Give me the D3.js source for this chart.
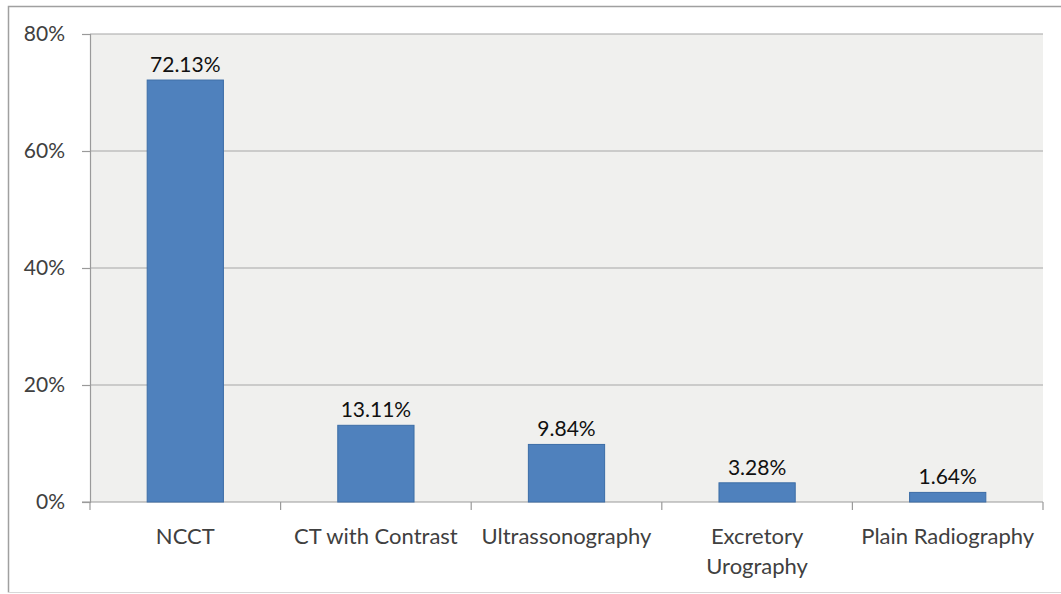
<!DOCTYPE html>
<html>
<head>
<meta charset="utf-8">
<script src="https://cdn.jsdelivr.net/npm/d3@7"></script>
<style>
	body { margin: 0; background: #fff; }
	text { font-family: Lato, 'Open Sans', sans-serif; }
</style>
</head>
<body>
<div id="chartArea"></div>
<script>

	// chart data
	var categories = ['NCCT', 'CT with Contrast', 'Ultrassonography', 'Excretory Urography', 'Plain Radiography'];
	var values = [72.13, 13.11, 9.84, 3.28, 1.64];
	var yTicks = [0, 20, 40, 60, 80];

	// labels that wrap onto two lines
	var labelLines = {
		'Excretory Urography': ['Excretory', 'Urography']
	};

	var width = 1061, height = 594;
	var margin = { top: 34, right: 18, bottom: 92, left: 90 };

	var svg = d3.select('#chartArea').append('svg')
		.attr('width', width)
		.attr('height', height);

	// outer frame
	svg.append('path')
		.attr('d', 'M8.5,' + (height - 1.5) + 'V6.5H' + width)
		.attr('fill', 'none')
		.attr('stroke', '#a0a0a0')
		.attr('stroke-width', 1.5);
	svg.append('line')
		.attr('x1', 8).attr('x2', width)
		.attr('y1', height - 1.5).attr('y2', height - 1.5)
		.attr('stroke', '#d8d8d8');

	var x = d3.scaleBand()
		.domain(categories)
		.range([margin.left, width - margin.right])
		.paddingInner(0.6)
		.paddingOuter(0.3);

	var y = d3.scaleLinear()
		.domain([0, 80])
		.range([height - margin.bottom, margin.top]);

	// plot background
	svg.append('rect')
		.attr('x', margin.left)
		.attr('y', margin.top)
		.attr('width', width - margin.right - margin.left)
		.attr('height', y(0) - margin.top)
		.attr('fill', '#f0f0ee');

	// gridlines
	svg.selectAll('.grid')
		.data(yTicks.slice(1))
		.enter()
		.append('line')
		.attr('class', 'grid')
		.attr('x1', margin.left)
		.attr('x2', width - margin.right)
		.attr('y1', function (d) { return y(d); })
		.attr('y2', function (d) { return y(d); })
		.attr('stroke', '#a6a6a6')
		.attr('stroke-width', 1.2);

	// y axis
	var yAxis = svg.append('g')
		.attr('transform', 'translate(' + margin.left + ',0)')
		.call(d3.axisLeft(y)
			.tickValues(yTicks)
			.tickSize(8)
			.tickPadding(17)
			.tickFormat(function (d) { return d + '%'; }));
	yAxis.select('.domain').attr('stroke', '#9a9a9a').attr('stroke-width', 1.2);
	yAxis.selectAll('.tick line').attr('stroke', '#9a9a9a').attr('stroke-width', 1.2);
	yAxis.selectAll('.tick text')
		.attr('font-size', 21)
		.attr('fill', '#404040');

	// x axis line and ticks at band boundaries
	var step = x.step();
	var bounds = d3.range(categories.length + 1).map(function (i) { return margin.left + i * step; });
	svg.append('line')
		.attr('x1', margin.left - 8)
		.attr('x2', width - margin.right)
		.attr('y1', y(0))
		.attr('y2', y(0))
		.attr('stroke', '#9a9a9a')
		.attr('stroke-width', 1.2);
	svg.selectAll('.xtick')
		.data(bounds)
		.enter()
		.append('line')
		.attr('class', 'xtick')
		.attr('x1', function (d) { return d; })
		.attr('x2', function (d) { return d; })
		.attr('y1', y(0))
		.attr('y2', y(0) + 8)
		.attr('stroke', '#9a9a9a')
		.attr('stroke-width', 1.2);

	// bars
	svg.selectAll('.bar')
		.data(values)
		.enter()
		.append('rect')
		.attr('class', 'bar')
		.attr('x', function (d, i) { return x(categories[i]); })
		.attr('y', function (d) { return y(d); })
		.attr('width', x.bandwidth())
		.attr('height', function (d) { return y(0) - y(d); })
		.attr('fill', '#4f81bd')
		.attr('stroke', '#3c6da6')
		.attr('stroke-width', 1);

	// value labels
	svg.selectAll('.value')
		.data(values)
		.enter()
		.append('text')
		.attr('class', 'value')
		.attr('x', function (d, i) { return x(categories[i]) + x.bandwidth() / 2; })
		.attr('y', function (d) { return y(d) - 8; })
		.attr('text-anchor', 'middle')
		.attr('font-size', 21)
		.attr('fill', '#111')
		.text(function (d) { return d.toFixed(2) + '%'; });

	// category labels
	var cat = svg.selectAll('.cat')
		.data(categories)
		.enter()
		.append('text')
		.attr('class', 'cat')
		.attr('text-anchor', 'middle')
		.attr('font-size', 22)
		.attr('fill', '#404040')
		.attr('x', function (d) { return x(d) + x.bandwidth() / 2; })
		.attr('y', y(0) + 42);

	cat.each(function (d) {
		var lines = labelLines[d] || [d];
		var t = d3.select(this);
		lines.forEach(function (l, i) {
			t.append('tspan')
				.attr('x', t.attr('x'))
				.attr('dy', i === 0 ? 0 : 30)
				.text(l);
		});
	});

</script>
</body>
</html>
